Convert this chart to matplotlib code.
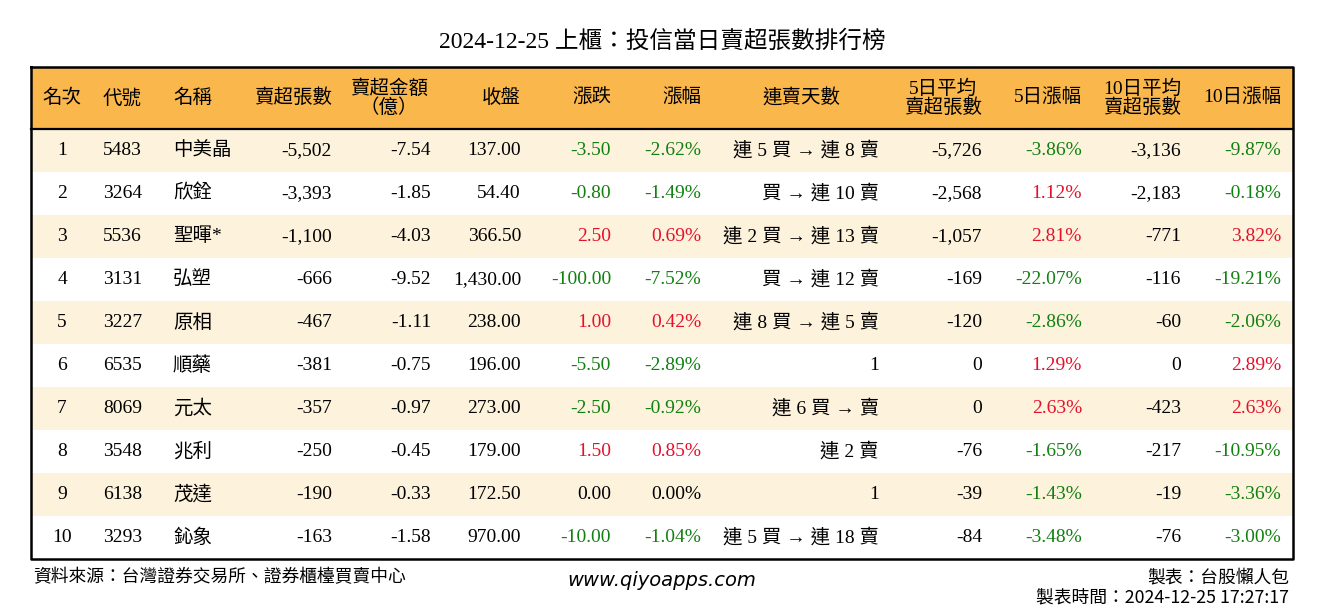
import matplotlib
matplotlib.use('Agg')
import matplotlib.pyplot as plt

plt.rcParams['font.family'] = ['Liberation Serif', 'Noto Sans CJK TC']

# table data
ranks = [1, 2, 3, 4, 5, 6, 7, 8, 9, 10]
codes = ['5483', '3264', '5536', '3131', '3227', '6535', '8069', '3548', '6138', '3293']
names = ['中美晶', '欣銓', '聖暉*', '弘塑', '原相', '順藥', '元太', '兆利', '茂達', '鈊象']
net_sell = [-5502, -3393, -1100, -666, -467, -381, -357, -250, -190, -163]
amount = [-7.54, -1.85, -4.03, -9.52, -1.11, -0.75, -0.97, -0.45, -0.33, -1.58]
close = [137.00, 54.40, 366.50, 1430.00, 238.00, 196.00, 273.00, 179.00, 172.50, 970.00]
change = [-3.50, -0.80, 2.50, -100.00, 1.00, -5.50, -2.50, 1.50, 0.00, -10.00]
pct = [-2.62, -1.49, 0.69, -7.52, 0.42, -2.89, -0.92, 0.85, 0.00, -1.04]
streak = ['連 5 買 → 連 8 賣', '買 → 連 10 賣', '連 2 買 → 連 13 賣', '買 → 連 12 賣',
          '連 8 買 → 連 5 賣', '1', '連 6 買 → 賣', '連 2 賣', '1', '連 5 買 → 連 18 賣']
avg5 = [-5726, -2568, -1057, -169, -120, 0, 0, -76, -39, -84]
pct5 = [-3.86, 1.12, 2.81, -22.07, -2.86, 1.29, 2.63, -1.65, -1.43, -3.48]
avg10 = [-3136, -2183, -771, -116, -60, 0, -423, -217, -19, -76]
pct10 = [-9.87, -0.18, 3.82, -19.21, -2.06, 2.89, 2.63, -10.95, -3.36, -3.00]

headers = ['名次', '代號', '名稱', '賣超張數', '賣超金額\n（億）', '收盤', '漲跌', '漲幅',
           '連賣天數', '5日平均\n賣超張數', '5日漲幅', '10日平均\n賣超張數', '10日漲幅']

GREEN = '#118011'
RED = '#E5102B'
HEAD_BG = '#F9B74C'
BAND = '#FDF2DC'


def sign_color(v):
    if v > 0:
        return RED
    if v < 0:
        return GREEN
    return 'black'


fig = plt.figure(figsize=(13.24, 6.12), dpi=100)
ax = fig.add_axes([0, 0, 1, 1])
ax.set_xlim(0, 1324)
ax.set_ylim(612, 0)
ax.axis('off')

left, right = 31, 1293
top, head_h, row_h = 67, 62, 43
body_top = top + head_h
n = len(ranks)
row_y = [body_top + row_h * (i + 0.5) for i in range(n)]

# backgrounds
ax.barh([top + head_h / 2], [right - left], left=left, height=head_h, color=HEAD_BG)
ax.barh(row_y, [right - left] * n, left=left, height=row_h,
        color=[BAND if i % 2 == 0 else 'white' for i in range(n)])
ax.plot([left, right, right, left, left],
        [top, top, body_top + row_h * n, body_top + row_h * n, top], color='black', lw=1.8)
ax.plot([left, right], [body_top, body_top], color='black', lw=1.6)

# column x positions / alignment for data
col_x = [62, 103, 173, 332, 431, 521, 611, 701, 879, 982, 1082, 1181, 1281]
col_ha = ['center', 'left', 'left'] + ['right'] * 10
# header positions
head_x = [62, 103, 173, 332, 389, 521, 611, 701, 801, 943, 1082, 1142, 1281]
head_ha = ['center', 'left', 'left', 'right', 'center', 'right', 'right', 'right',
           'center', 'center', 'right', 'center', 'right']

fs = 14
head_yc = top + head_h / 2
for h, x, ha in zip(headers, head_x, head_ha):
    ax.text(x, head_yc, h, ha=ha, va='center', fontsize=fs, linespacing=1.0,
            multialignment='center')

for i in range(n):
    y = row_y[i]
    cells = [
        (str(ranks[i]), 'black'),
        (codes[i], 'black'),
        (names[i], 'black'),
        (f'{net_sell[i]:,}', 'black'),
        (f'{amount[i]:.2f}', 'black'),
        (f'{close[i]:,.2f}', 'black'),
        (f'{change[i]:.2f}', sign_color(change[i])),
        (f'{pct[i]:.2f}%', sign_color(pct[i])),
        (streak[i], 'black'),
        (f'{avg5[i]:,}', 'black'),
        (f'{pct5[i]:.2f}%', sign_color(pct5[i])),
        (f'{avg10[i]:,}', 'black'),
        (f'{pct10[i]:.2f}%', sign_color(pct10[i])),
    ]
    for (txt, c), x, ha in zip(cells, col_x, col_ha):
        ax.text(x, y, txt, ha=ha, va='center', fontsize=fs, color=c)

# title and footer
ax.text(662, 42, '2024-12-25 上櫃：投信當日賣超張數排行榜', ha='center', va='center', fontsize=17)
ax.text(33, 577, '資料來源：台灣證券交易所、證券櫃檯買賣中心', ha='left', va='center',
        fontsize=12.8, family=['Noto Sans CJK TC'])
ax.text(662, 580, 'www.qiyoapps.com', ha='center', va='center', fontsize=14,
        style='italic', family=['DejaVu Sans'])
ax.text(1289, 577, '製表：台股懶人包', ha='right', va='center', fontsize=12.8,
        family=['Noto Sans CJK TC'])
ax.text(1289, 598, '製表時間：2024-12-25 17:27:17', ha='right', va='center', fontsize=12.8,
        family=['Noto Sans CJK TC'])

fig.savefig('out.png', dpi=100)
